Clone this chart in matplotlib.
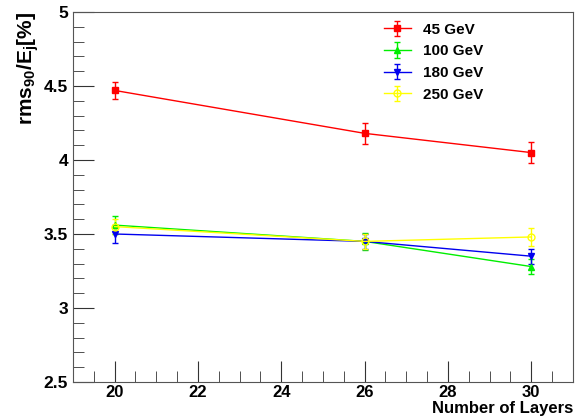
import matplotlib.pyplot as plt
from matplotlib.ticker import MultipleLocator, FormatStrFormatter

layers = [20, 26, 30]
labels = ['45 GeV', '100 GeV', '180 GeV', '250 GeV']
rms_45 = [4.47, 4.18, 4.05]
rms_100 = [3.56, 3.45, 3.28]
rms_180 = [3.50, 3.45, 3.35]
rms_250 = [3.55, 3.45, 3.48]
err_45 = [0.06, 0.07, 0.07]
err_100 = [0.06, 0.06, 0.05]
err_180 = [0.06, 0.05, 0.05]
err_250 = [0.05, 0.05, 0.06]

plt.rcParams['font.family'] = ['Liberation Sans', 'DejaVu Sans']
plt.rcParams['font.weight'] = 'bold'
plt.rcParams['mathtext.default'] = 'bf'
plt.rcParams['mathtext.fontset'] = 'custom'
plt.rcParams['mathtext.bf'] = 'Liberation Sans:bold'

fig = plt.figure(figsize=(5.77, 4.19), dpi=100)
ax = fig.add_axes([0.1265, 0.0883, 0.8665, 0.8831])

series = [
    (rms_45, err_45, '#ff0000', 's', 'full'),
    (rms_100, err_100, '#00ee00', '^', 'full'),
    (rms_180, err_180, '#0000ee', 'v', 'full'),
    (rms_250, err_250, '#ffff00', 'o', 'none'),
]
for (vals, errs, col, mk, fill), lab in zip(series, labels):
    ax.errorbar(layers, vals, yerr=errs, color=col, marker=mk, fillstyle=fill,
                markersize=5, lw=1, elinewidth=1, capsize=2, label=lab)

ax.set_xlim(19, 31)
ax.set_ylim(2.5, 5)
ax.xaxis.set_major_locator(MultipleLocator(2))
ax.xaxis.set_minor_locator(MultipleLocator(0.5))
ax.yaxis.set_major_locator(MultipleLocator(0.5))
ax.yaxis.set_minor_locator(MultipleLocator(0.1))
ax.yaxis.set_major_formatter(FormatStrFormatter('%g'))
ax.tick_params(which='both', direction='in', labelsize=12.5, colors='#333333',
               labelcolor='black')
ax.tick_params(which='major', length=15)
ax.tick_params(which='minor', length=8)
ax.tick_params(axis='x', pad=2, labelsize=12)
for s in ax.spines.values():
    s.set_color('#555555')

ax.set_xlabel('Number of Layers', fontsize=12, fontweight='bold', loc='right', labelpad=1)
ax.set_ylabel('rms$_{90}$/E$_{j}$[%]', fontsize=15, fontweight='bold', loc='top', labelpad=2)

ax.legend(loc='upper left', bbox_to_anchor=(0.6, 1.0), frameon=False, borderaxespad=0.3,
          prop={'size': 11, 'weight': 'bold'}, handlelength=1.8, labelspacing=0.5)

fig.savefig('out.png', dpi=100)
